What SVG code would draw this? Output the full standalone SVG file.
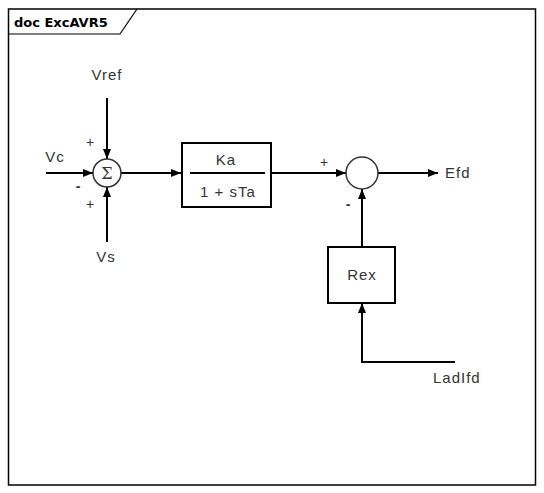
<svg xmlns="http://www.w3.org/2000/svg" width="544" height="493" viewBox="0 0 544 493">
<style>
.ln{stroke:#000;stroke-width:2;fill:none}
.bx{stroke:#000;stroke-width:2;fill:#fff}
.ci{stroke:#333;stroke-width:1.5;fill:#fff}
.t{font-family:"Liberation Sans",Arial,sans-serif;font-size:15px;fill:#333;letter-spacing:1px}
.s{font-family:"Liberation Sans",Arial,sans-serif;font-size:14px;fill:#333}
</style>
<defs>
<marker id="ah" markerWidth="10" markerHeight="8" refX="10" refY="4" orient="auto" markerUnits="userSpaceOnUse">
<path d="M0,0 L10,4 L0,8 Z" fill="#000"/>
</marker>
</defs>
<rect width="544" height="493" fill="#fff"/>
<g id="frame">
<rect x="8.5" y="9" width="527" height="476" fill="none" stroke="#000" stroke-width="1.5"/>
<path d="M8.5,34 L120,34 L137,9" fill="none" stroke="#000" stroke-width="1.2"/>
<text x="14" y="27" font-family="DejaVu Sans,Verdana,sans-serif" font-size="13" font-weight="bold" fill="#000">doc ExcAVR5</text>
</g>
<g id="connectors">
<line class="ln" x1="46" y1="173" x2="93" y2="173" marker-end="url(#ah)"/>
<line class="ln" x1="107" y1="98" x2="107" y2="159" marker-end="url(#ah)"/>
<line class="ln" x1="107" y1="242" x2="107" y2="187" marker-end="url(#ah)"/>
<line class="ln" x1="121" y1="173" x2="181" y2="173" marker-end="url(#ah)"/>
<line class="ln" x1="271" y1="173" x2="346" y2="173" marker-end="url(#ah)"/>
<line class="ln" x1="378" y1="173" x2="438" y2="173" marker-end="url(#ah)"/>
<line class="ln" x1="362" y1="247" x2="362" y2="189" marker-end="url(#ah)"/>
<polyline class="ln" points="455,362 362,362 362,303" marker-end="url(#ah)"/>
</g>
<g id="sum1">
<circle class="ci" cx="107" cy="173" r="14"/>
<text x="107" y="179" text-anchor="middle" font-family="DejaVu Serif,serif" font-size="16" fill="#333">Σ</text>
<text class="s" x="90" y="147" text-anchor="middle">+</text>
<text class="s" x="90" y="209" text-anchor="middle">+</text>
<text class="s" x="78" y="191" text-anchor="middle" font-weight="bold" fill="#000">-</text>
</g>
<g id="labels-in">
<text class="t" x="107" y="80" text-anchor="middle">Vref</text>
<text class="t" x="55" y="162" text-anchor="middle">Vc</text>
<text class="t" x="106" y="262" text-anchor="middle">Vs</text>
</g>
<g id="block-ka">
<rect class="bx" x="182" y="143" width="89" height="64"/>
<line x1="190" y1="173" x2="265" y2="173" stroke="#000" stroke-width="2"/>
<text class="t" x="226" y="165" text-anchor="middle">Ka</text>
<text class="t" x="228" y="197" text-anchor="middle">1 + sTa</text>
</g>
<g id="sum2">
<circle class="ci" cx="362" cy="173" r="16"/>
<text class="s" x="324" y="167" text-anchor="middle">+</text>
<text class="s" x="348" y="209" text-anchor="middle" font-weight="bold" fill="#000">-</text>
</g>
<g id="efd">
<text class="t" x="445" y="178">Efd</text>
</g>
<g id="block-rex">
<rect class="bx" x="328" y="247" width="67" height="56"/>
<text class="t" x="362" y="280" text-anchor="middle">Rex</text>
</g>
<g id="ladifd">
<text class="t" x="433" y="383">LadIfd</text>
</g>
</svg>
